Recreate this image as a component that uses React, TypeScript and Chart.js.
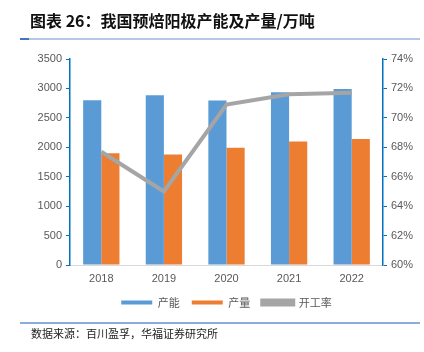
import React, { useEffect, useRef } from "react";
import { Chart, registerables } from "chart.js";

Chart.register(...registerables);

const years = ["2018", "2019", "2020", "2021", "2022"];
const capacity = [2800, 2885, 2795, 2935, 2990];
const output = [1900, 1878, 1990, 2098, 2140];
const utilization = [67.7, 65.0, 70.9, 71.6, 71.7];

const leftTicks = [0, 500, 1000, 1500, 2000, 2500, 3000, 3500];
const rightTicks = [60, 62, 64, 66, 68, 70, 72, 74];

const TITLE = "图表 26：我国预焙阳极产能及产量/万吨";
const SOURCE = "数据来源：百川盈孚，华福证券研究所";

const CJK = '"Noto Sans CJK SC", "Noto Sans", sans-serif';
const TICK_FONT = '"Liberation Sans", Arial, sans-serif';

const legendShift = {
  id: "legendShift",
  afterLayout(chart: any) {
    const lg = chart.legend;
    if (lg) {
      const area = chart.chartArea;
      const dx = (area.left + area.right) / 2 - (lg.left + lg.right) / 2;
      lg.left += dx;
      lg.right += dx;
    }
  },
};

export default function App() {
  const ref = useRef<HTMLCanvasElement | null>(null);

  useEffect(() => {
    if (!ref.current) return;
    const chart = new Chart(ref.current, {
      data: {
        labels: years,
        datasets: [
          {
            type: "bar",
            label: "产能",
            data: capacity,
            backgroundColor: "#5B9BD5",
            yAxisID: "y",
            order: 2,
            categoryPercentage: 0.58,
            barPercentage: 1,
          },
          {
            type: "bar",
            label: "产量",
            data: output,
            backgroundColor: "#ED7D31",
            yAxisID: "y",
            order: 2,
            categoryPercentage: 0.58,
            barPercentage: 1,
          },
          {
            type: "line",
            label: "开工率",
            data: utilization,
            borderColor: "#A5A5A5",
            backgroundColor: "#A5A5A5",
            borderWidth: 4,
            pointRadius: 0,
            tension: 0,
            yAxisID: "y1",
            order: 1,
          },
        ],
      },
      plugins: [legendShift],
      options: {
        animation: false,
        responsive: false,
        maintainAspectRatio: false,
        layout: { padding: { top: 59, bottom: 34, left: 0, right: 0 } },
        plugins: {
          tooltip: { enabled: false },
          legend: {
            position: "bottom",
            labels: {
              sort: (a: any, b: any) => a.datasetIndex - b.datasetIndex,
              boxWidth: 31,
              boxHeight: 4,
              padding: 12,
              color: "#595959",
              font: { family: CJK, size: 11 },
            },
          },
        },
        scales: {
          x: {
            grid: { display: false, drawTicks: false },
            border: { color: "#D9D9D9", width: 1 },
            ticks: {
              color: "#595959",
              font: { family: TICK_FONT, size: 11 },
              padding: 7,
            },
            afterFit: (s: any) => {
              s.height = 20;
            },
          },
          y: {
            position: "left",
            min: 0,
            max: 3500,
            afterBuildTicks: (s: any) => {
              s.ticks = leftTicks.map((v) => ({ value: v }));
            },
            grid: {
              drawOnChartArea: false,
              drawTicks: true,
              tickLength: 4,
              color: "#0070C0",
            },
            border: { color: "#0070C0", width: 1.5 },
            ticks: {
              color: "#595959",
              font: { family: TICK_FONT, size: 11 },
              padding: 4,
              callback: (v: any) => String(v),
            },
            afterFit: (s: any) => {
              s.width = 70;
            },
          },
          y1: {
            position: "right",
            min: 60,
            max: 74,
            afterBuildTicks: (s: any) => {
              s.ticks = rightTicks.map((v) => ({ value: v }));
            },
            grid: {
              drawOnChartArea: false,
              drawTicks: true,
              tickLength: 4,
              color: "#0070C0",
            },
            border: { color: "#0070C0", width: 1.5 },
            ticks: {
              color: "#595959",
              font: { family: TICK_FONT, size: 11 },
              padding: 4,
              callback: (v: any) => v + "%",
            },
            afterFit: (s: any) => {
              s.width = 41;
            },
          },
        },
      },
    } as any);
    return () => chart.destroy();
  }, []);

  return (
    <div
      style={{
        position: "fixed",
        left: 0,
        top: 0,
        width: 424,
        height: 352,
        background: "#fff",
        overflow: "hidden",
      }}
    >
      <canvas
        ref={ref}
        width={424}
        height={352}
        style={{ position: "absolute", left: 0, top: 0, width: 424, height: 352 }}
      />
      <div
        style={{
          position: "absolute",
          left: 30,
          top: 9,
          fontFamily: CJK,
          fontWeight: "bold",
          fontSize: 16,
          lineHeight: "22px",
          color: "#111",
          whiteSpace: "nowrap",
        }}
      >
        {TITLE}
      </div>
      <div
        style={{
          position: "absolute",
          left: 20,
          top: 38,
          width: 400,
          height: 2,
          background: "#B4C7E7",
        }}
      />
      <div
        style={{
          position: "absolute",
          left: 20,
          top: 38,
          width: 9,
          height: 2,
          background: "#4472C4",
        }}
      />
      <div
        style={{
          position: "absolute",
          left: 20,
          top: 322,
          width: 400,
          height: 2,
          background: "#8EAADB",
        }}
      />
      <div
        style={{
          position: "absolute",
          left: 31,
          top: 325,
          fontFamily: CJK,
          fontSize: 11,
          lineHeight: "16px",
          color: "#222",
          whiteSpace: "nowrap",
        }}
      >
        {SOURCE}
      </div>
    </div>
  );
}
